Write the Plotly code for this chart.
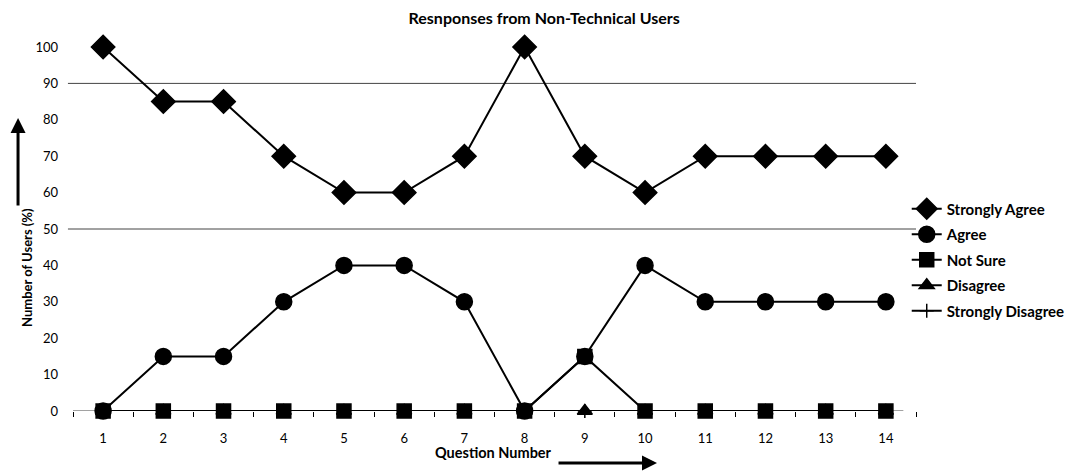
import plotly.graph_objects as go

questions = list(range(1, 15))
strongly_agree = [100, 85, 85, 70, 60, 60, 70, 100, 70, 60, 70, 70, 70, 70]
agree = [0, 15, 15, 30, 40, 40, 30, 0, 15, 40, 30, 30, 30, 30]
not_sure = [0, 0, 0, 0, 0, 0, 0, 0, 15, 0, 0, 0, 0, 0]
disagree = [0, 0, 0, 0, 0, 0, 0, 0, 0, 0, 0, 0, 0, 0]
strongly_disagree = [0, 0, 0, 0, 0, 0, 0, 0, 0, 0, 0, 0, 0, 0]
y_ticks = [0, 10, 20, 30, 40, 50, 60, 70, 80, 90, 100]

FONT = "Lato"
INK = "black"

fig = go.Figure()

# drawn bottom-up; legendrank keeps the legend in response order
series = [
    ("Strongly Disagree", strongly_disagree, "cross-thin", 10, 5),
    ("Disagree", disagree, "triangle-up", 13, 4),
    ("Not Sure", not_sure, "square", 14, 3),
    ("Agree", agree, "circle", 16, 2),
    ("Strongly Agree", strongly_agree, "diamond", 18, 1),
]
for name, vals, sym, size, rank in series:
    fig.add_trace(go.Scatter(
        x=questions, y=vals, name=name, legendgroup=name, legendrank=rank,
        mode="lines+markers",
        line=dict(color=INK, width=2),
        marker=dict(symbol=sym, size=size, color=INK,
                    line=dict(color=INK, width=1.5)),
        cliponaxis=False,
    ))

# horizontal reference lines
for level in (50, 90):
    fig.add_shape(type="line", xref="paper", yref="y", x0=-0.006, x1=1.0,
                  y0=level, y1=level, line=dict(color="#444", width=1), layer="below")

# baseline at zero
fig.add_shape(type="line", xref="paper", yref="y", x0=0, x1=0.985, y0=0, y1=0,
              line=dict(color="#444", width=1), layer="below")

fig.update_layout(
    width=1067, height=475,
    margin=dict(l=73, r=151, t=47, b=64, autoexpand=False),
    paper_bgcolor="white", plot_bgcolor="white",
    font=dict(family=FONT, size=13, color=INK),
    title=dict(text="<b>Resnponses from Non-Technical Users</b>",
               x=0.51, xanchor="center", y=0.962, yanchor="middle",
               font=dict(family=FONT, size=16, color=INK)),
    showlegend=True,
    legend=dict(x=0.989, xanchor="left", y=0.415, yanchor="middle",
                traceorder="grouped", tracegroupgap=3,
                font=dict(family=FONT, size=15, color=INK, weight="bold"),
                itemwidth=30, bgcolor="rgba(0,0,0,0)"),
    xaxis=dict(range=[0.5, 14.5], tickvals=questions, ticktext=[str(q) for q in questions],
               showgrid=False, zeroline=False, showline=False, ticks="",
               ticklabelstandoff=18,
               minor=dict(tickvals=[q + 0.5 for q in range(0, 15)], ticks="outside",
                          ticklen=5, tickcolor=INK, showgrid=False)),
    yaxis=dict(range=[0, 100], tickvals=y_ticks, showgrid=False, zeroline=False,
               showline=False, ticks="", ticklabelstandoff=14),
    annotations=[
        dict(text="<b>Number of Users (%)</b>", xref="paper", yref="paper",
             x=-0.0664, y=0.393, textangle=-90, showarrow=False,
             font=dict(family=FONT, size=13, color=INK)),
        dict(text="", xref="paper", yref="paper", x=-0.0652, y=0.805,
             ax=0, ay=89, showarrow=True, arrowhead=2, arrowwidth=3,
             arrowsize=1, arrowcolor=INK),
        dict(text="<b>Question Number</b>", xref="paper", yref="paper",
             x=0.4994, y=-0.1429, showarrow=False,
             font=dict(family=FONT, size=14.5, color=INK)),
        dict(text="", xref="paper", yref="paper", x=0.6928, y=-0.1429,
             ax=-100, ay=0, showarrow=True, arrowhead=2, arrowwidth=3,
             arrowsize=1, arrowcolor=INK),
    ],
)

fig.write_html("out.html")
